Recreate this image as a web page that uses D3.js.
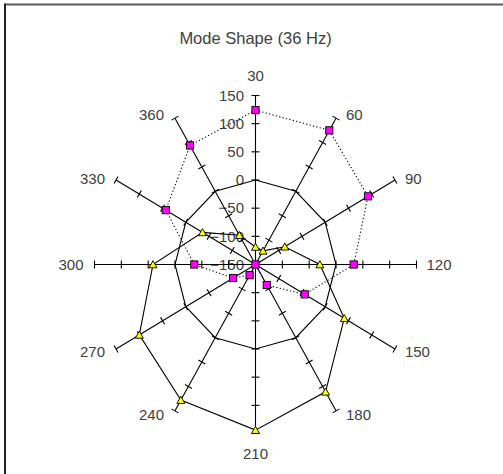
<!DOCTYPE html>
<html>
<head>
<meta charset="utf-8">
<script src="https://cdn.jsdelivr.net/npm/d3@7"></script>
<style>
  html, body { margin: 0; padding: 0; background: #fff; }
  svg { display: block; }
  text { font-family: "Liberation Sans", Arial, sans-serif; fill: #404040; }
</style>
</head>
<body>
<svg id="chart" width="503" height="474"></svg>
<script>
// Measurement angles around the ring (degrees)
const categories = ["30", "60", "90", "120", "150", "180", "210", "240", "270", "300", "330", "360"];
// Mode-shape amplitudes, one value per angle
const shapeSquares = [124, 125, 92, 33, -44, -108, -150, -128, -102, -36, 43, 94];
const shapeTriangles = [-119, -122, -87, -30, 41, 111, 144, 128, 100, 41, -36, -90];
// Reference ring at zero amplitude
const zeroRing = [0, 0, 0, 0, 0, 0, 0, 0, 0, 0, 0, 0];
// Radial axis ticks
const radialTicks = [-150, -100, -50, 0, 50, 100, 150];

const svg = d3.select("#chart");
const cx = 255.5, cy = 264.5;
const radiusX = 161, radiusY = 169;

const rX = d3.scaleLinear().domain([-150, 150]).range([0, radiusX]);
const rY = d3.scaleLinear().domain([-150, 150]).range([0, radiusY]);
const angle = d3.scalePoint().domain(categories).range([0, 2 * Math.PI * 11 / 12]);

function pos(cat, v) {
  const a = angle(cat);
  return [cx + Math.sin(a) * rX(v), cy - Math.cos(a) * rY(v)];
}

// Chart frame
svg.append("line").attr("x1", 5).attr("x2", 503).attr("y1", 4.5).attr("y2", 4.5)
  .attr("stroke", "#5a5a5a").attr("stroke-width", 2);
svg.append("line").attr("x1", 5).attr("x2", 5).attr("y1", 3.5).attr("y2", 474)
  .attr("stroke", "#222").attr("stroke-width", 2);

// Title
svg.append("text").attr("x", cx).attr("y", 44).attr("text-anchor", "middle")
  .style("font-size", "16.5px").text("Mode Shape (36 Hz)");

// Radial value labels along the first spoke
const yAxisScale = d3.scaleLinear().domain([-150, 150]).range([cy, cy - radiusY]);
const yAxis = svg.append("g").attr("transform", `translate(${cx},0)`)
  .call(d3.axisLeft(yAxisScale).tickValues(radialTicks).tickSize(0).tickPadding(11.5)
    .tickFormat(d3.format("d")));
yAxis.select(".domain").remove();
yAxis.selectAll("text").style("font-size", "15px").attr("fill", "#404040")
  .style("font-family", "'Liberation Sans', Arial, sans-serif");

// Category labels around the outside
svg.append("g").selectAll("text").data(categories).join("text")
  .each(function (c) {
    const a = angle(c);
    const [ex, ey] = pos(c, 150);
    const s = Math.sin(a), co = Math.cos(a);
    const sel = d3.select(this);
    if (Math.abs(s) < 0.01) {
      sel.attr("x", ex).attr("y", ey - co * 20).attr("text-anchor", "middle");
    } else {
      sel.attr("x", ex + (s > 0 ? 10 : -11)).attr("y", ey - co * 4)
        .attr("text-anchor", s > 0 ? "start" : "end");
    }
  })
  .attr("dominant-baseline", "central")
  .style("font-size", "15px")
  .text(d => d);

// Spokes
const spokes = svg.append("g").attr("stroke", "#000").attr("stroke-width", 1.1);
spokes.selectAll("line.spoke").data(categories).join("line").attr("class", "spoke")
  .attr("x1", cx).attr("y1", cy)
  .attr("x2", d => pos(d, 150)[0]).attr("y2", d => pos(d, 150)[1]);

// Cross ticks on every spoke
const tickData = [];
categories.forEach(c => radialTicks.filter(t => t > -150).forEach(t => tickData.push({ c, t })));
spokes.selectAll("line.tick").data(tickData).join("line").attr("class", "tick")
  .each(function (d) {
    const a = angle(d.c);
    const [px, py] = pos(d.c, d.t);
    const nx = Math.cos(a), ny = Math.sin(a);
    d3.select(this).attr("x1", px - nx * 4).attr("y1", py - ny * 4)
      .attr("x2", px + nx * 4).attr("y2", py + ny * 4);
  });

const ring = d3.line().curve(d3.curveLinearClosed);

// Zero-amplitude ring
svg.append("path")
  .attr("d", ring(categories.map((c, i) => pos(c, zeroRing[i]))))
  .attr("fill", "none").attr("stroke", "#000").attr("stroke-width", 1.1);

// Triangle series line
svg.append("path")
  .attr("d", ring(categories.map((c, i) => pos(c, shapeTriangles[i]))))
  .attr("fill", "none").attr("stroke", "#000").attr("stroke-width", 1.1);

// Square series line (dotted)
svg.append("path")
  .attr("d", ring(categories.map((c, i) => pos(c, shapeSquares[i]))))
  .attr("fill", "none").attr("stroke", "#111").attr("stroke-width", 1.1)
  .attr("stroke-dasharray", "1.3,2.2");

// Triangle markers
svg.append("g").selectAll("path").data(categories).join("path")
  .attr("transform", (c, i) => { const p = pos(c, shapeTriangles[i]); return `translate(${p[0]},${p[1]})`; })
  .attr("d", "M0,-3.8L4,3.3L-4,3.3Z")
  .attr("fill", "#ffff00").attr("stroke", "#000").attr("stroke-width", 0.9);

// Square markers
svg.append("g").selectAll("rect").data(categories).join("rect")
  .attr("x", (c, i) => pos(c, shapeSquares[i])[0] - 3.6)
  .attr("y", (c, i) => pos(c, shapeSquares[i])[1] - 3.6)
  .attr("width", 7.2).attr("height", 7.2)
  .attr("fill", "#ff00ff").attr("stroke", "#000").attr("stroke-width", 0.9);
</script>
</body>
</html>
